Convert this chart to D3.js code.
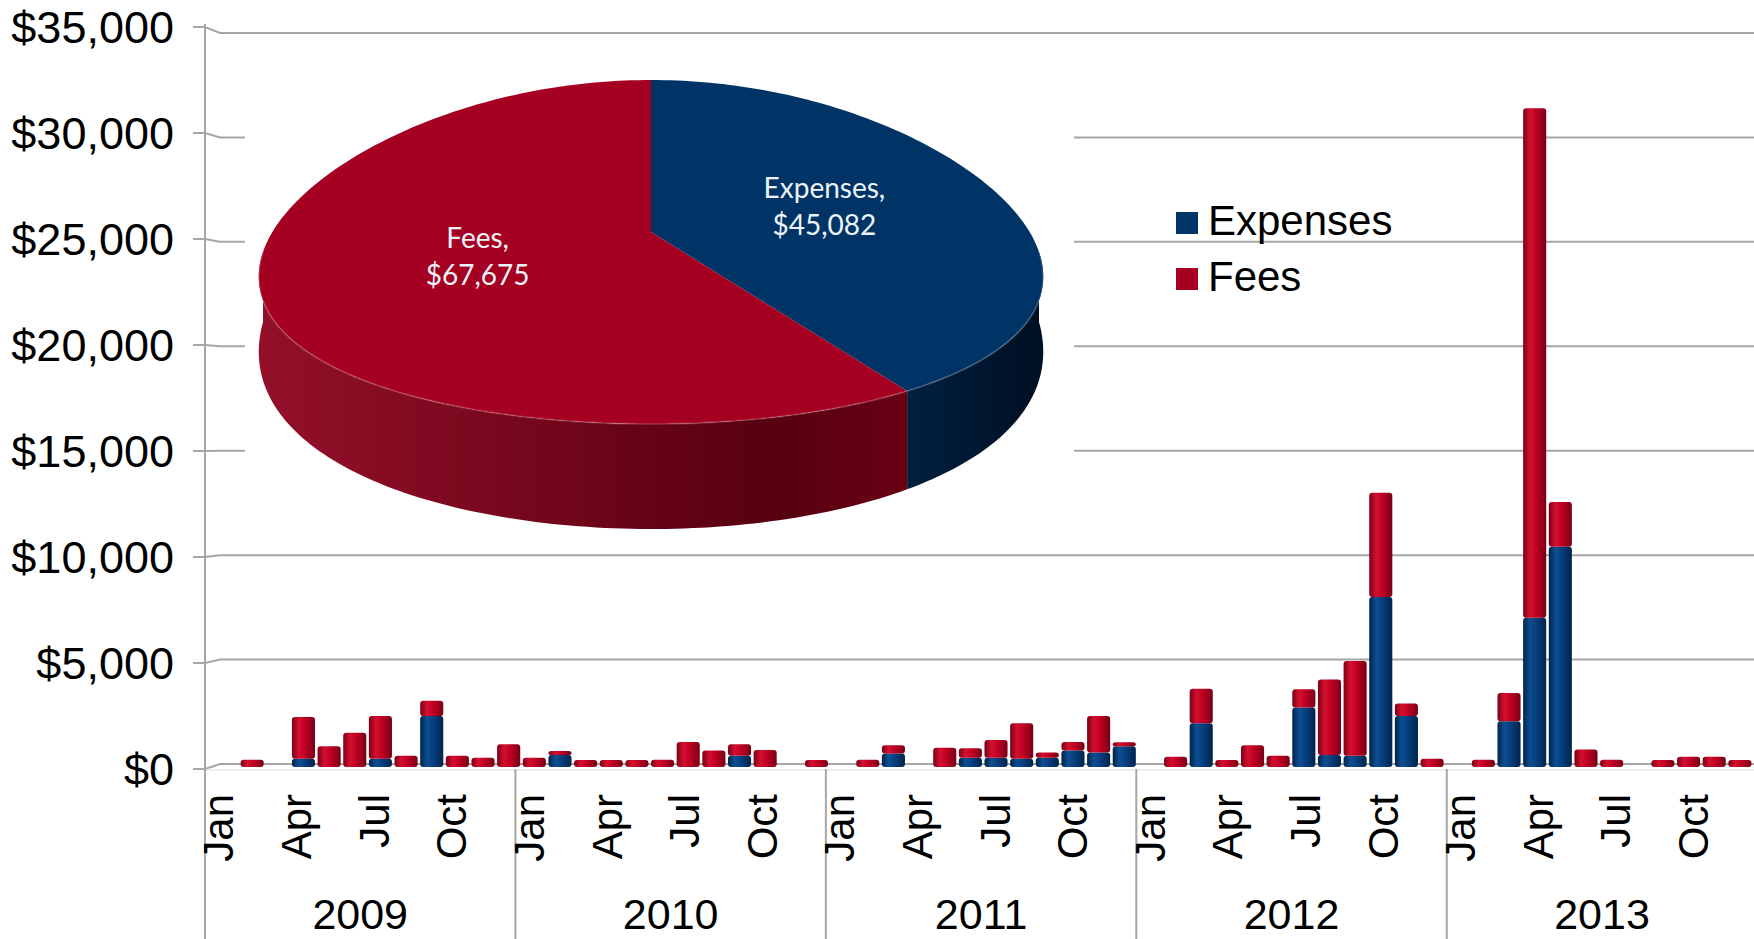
<!DOCTYPE html>
<html>
<head>
<meta charset="utf-8">
<script src="https://cdn.jsdelivr.net/npm/d3@7/dist/d3.min.js"></script>
<style>
  body { margin: 0; background: #fff; }
  svg { display: block; background: #fff; }
</style>
</head>
<body>
<svg width="1754" height="939"></svg>
<script>
// ---- data ----
const monthNames = ['Jan','Feb','Mar','Apr','May','Jun','Jul','Aug','Sep','Oct','Nov','Dec'];
const years = ['2009', '2010', '2011', '2012', '2013'];
const seriesNames = ['Expenses', 'Fees'];

const expenses = [
  0, 0, 0, 250, 0, 0, 250, 0, 2300, 0, 0, 0,            // 2009
  0, 430, 0, 0, 0, 0, 0, 0, 400, 0, 0, 0,               // 2010
  0, 0, 500, 0, 0, 300, 300, 250, 300, 650, 550, 850,   // 2011
  0, 0, 1950, 0, 0, 0, 2700, 430, 400, 8000, 2300, 0,   // 2012
  0, 0, 2050, 7000, 10400, 0, 0, 0, 0, 0, 0, 0          // 2013
];
const fees = [
  0, 200, 0, 2000, 850, 1500, 2050, 400, 730, 400, 300, 950,
  300, 150, 100, 80, 80, 200, 1050, 650, 550, 670, 0, 150,
  0, 200, 400, 0, 780, 450, 850, 1700, 250, 400, 1750, 150,
  0, 350, 1650, 100, 900, 400, 880, 3620, 4530, 4990, 600, 250,
  0, 200, 1350, 24400, 2150, 700, 200, 0, 150, 350, 350, 120
];
const yTicks = [0, 5000, 10000, 15000, 20000, 25000, 30000, 35000];

const pieLabels = ['Expenses', 'Fees'];
const pieValues = [45082, 67675];

// ---- setup ----
const svg = d3.select('svg');
const W = 1754;
const font = '"Liberation Sans", Arial, sans-serif';
const colors = { Expenses: '#003366', Fees: '#a50021' };

const axisX = 205, backX = 220;
const yFront = d3.scaleLinear().domain([0, 35000]).range([769, 27]);
const yBack = d3.scaleLinear().domain([0, 35000]).range([764, 33]);

const nMonths = expenses.length;
const xLabel = d3.scaleBand().domain(d3.range(nMonths)).range([axisX, axisX + nMonths * 25.87]);
const xBar = d3.scaleBand().domain(d3.range(nMonths))
  .range([213.7, 213.7 + nMonths * 25.65])
  .paddingInner(0.1).paddingOuter(0.05);

const defs = svg.append('defs');
const hGrad = (id, stops) => {
  const g = defs.append('linearGradient').attr('id', id)
    .attr('x1', 0).attr('x2', 1).attr('y1', 0).attr('y2', 0);
  stops.forEach(([o, c]) => g.append('stop').attr('offset', o).attr('stop-color', c));
};
hGrad('barFees', [[0, '#7c0016'], [0.3, '#d3102f'], [0.55, '#c20024'], [1, '#780015']]);
hGrad('barExpenses', [[0, '#00234a'], [0.3, '#0d4f90'], [0.55, '#064080'], [1, '#00234a']]);
hGrad('sideFees', [[0, '#94102a'], [0.45, '#72061a'], [0.8, '#560010'], [1, '#6a0015']]);
hGrad('sideExpenses', [[0, '#00203f'], [1, '#000f22']]);

// ---- gridlines with the little 3D kink ----
const grid = svg.append('g');
grid.selectAll('path').data(yTicks).enter().append('path')
  .attr('d', v => `M193,${yFront(v)}L${axisX},${yFront(v)}L${backX},${yBack(v)}L${W},${yBack(v)}`)
  .attr('fill', 'none')
  .attr('stroke', '#a6a6a6')
  .attr('stroke-width', 2);

// front edge of the floor
svg.append('line')
  .attr('x1', axisX).attr('x2', W)
  .attr('y1', yFront(0) + 1).attr('y2', yFront(0) + 1)
  .attr('stroke', '#dcdcdc').attr('stroke-width', 1);

// axis + year separators
svg.append('line')
  .attr('x1', axisX).attr('x2', axisX).attr('y1', 24).attr('y2', 939)
  .attr('stroke', '#a6a6a6').attr('stroke-width', 2);
svg.selectAll('.sep').data(d3.range(1, years.length)).enter().append('line')
  .attr('class', 'sep')
  .attr('x1', k => xLabel(k * 12)).attr('x2', k => xLabel(k * 12))
  .attr('y1', yFront(0)).attr('y2', 939)
  .attr('stroke', '#a6a6a6').attr('stroke-width', 2);

// y tick labels
svg.selectAll('.ytick').data(yTicks).enter().append('text')
  .attr('class', 'ytick')
  .attr('x', 174)
  .attr('y', v => yFront(v))
  .attr('dy', '0.36em')
  .attr('text-anchor', 'end')
  .style('font-family', font)
  .style('font-size', '45px')
  .text(d3.format('$,'));

// month labels (every quarter), rotated
const quarterIdx = d3.range(nMonths).filter(i => i % 3 === 0);
svg.selectAll('.month').data(quarterIdx).enter().append('text')
  .attr('class', 'month')
  .attr('transform', i => `translate(${xLabel(i) + xLabel.bandwidth() / 2},794) rotate(-90)`)
  .attr('dy', '0.37em')
  .attr('text-anchor', 'end')
  .style('font-family', font)
  .style('font-size', '42px')
  .text(i => monthNames[i % 12]);

// year labels
svg.selectAll('.year').data(years).enter().append('text')
  .attr('class', 'year')
  .attr('x', (d, k) => (xLabel(k * 12) + xLabel(k * 12 + 11) + xLabel.bandwidth()) / 2)
  .attr('y', 929)
  .attr('text-anchor', 'middle')
  .style('font-family', font)
  .style('font-size', '43px')
  .text(d => d);

// ---- stacked bars ----
const table = expenses.map((e, i) => ({ i, Expenses: e, Fees: fees[i] }));
const stacked = d3.stack().keys(seriesNames)(table);

const layers = svg.append('g').selectAll('g').data(stacked).enter().append('g')
  .attr('fill', s => `url(#bar${s.key})`);

layers.selectAll('rect')
  .data(s => s.filter(d => d[1] - d[0] > 0))
  .enter().append('rect')
  .attr('x', d => xBar(d.data.i))
  .attr('width', xBar.bandwidth())
  .attr('y', d => Math.min(yBack(d[1]), yBack(d[0]) - 4))
  .attr('height', d => Math.max(yBack(d[0]) - yBack(d[1]), 4) + (d[0] === 0 ? 3 : 0))
  .attr('rx', 3);

// ---- inset 3D pie ----
svg.append('rect')
  .attr('x', 245).attr('y', 45).attr('width', 829).attr('height', 500)
  .attr('fill', '#fff');

const pcx = 651, prx = 388;
const topCy = 252, topRy = 172;
const botCy = 322, botRy = 207;
const persp = 0.15;            // front of the disc drawn a bit wider than the back
const hub = [651, 232];
const rim = (a, cy, ry) => [
  pcx + prx * Math.sin(a) * (1 - persp * Math.cos(a)),
  cy - ry * Math.cos(a)
];
const rimPts = (a0, a1, cy, ry) => {
  const n = Math.max(2, Math.ceil((a1 - a0) / 0.02));
  return d3.range(n + 1).map(j => rim(a0 + (a1 - a0) * j / n, cy, ry));
};
const line = d3.line();

const arcs = d3.pie().sort(null).value(d => d)(pieValues)
  .map((a, k) => Object.assign(a, { name: pieLabels[k] }));

const pieG = svg.append('g');

// visible front walls
arcs.forEach(a => {
  const s = Math.max(a.startAngle, Math.PI / 2);
  const e = Math.min(a.endAngle, 3 * Math.PI / 2);
  if (e <= s) return;
  const pts = rimPts(s, e, topCy, topRy).concat(rimPts(s, e, botCy, botRy).reverse());
  pieG.append('path')
    .attr('d', line(pts) + 'Z')
    .attr('fill', `url(#side${a.name})`);
});

// top faces
pieG.selectAll('.slice').data(arcs).enter().append('path')
  .attr('class', 'slice')
  .attr('d', a => line([hub].concat(rimPts(a.startAngle, a.endAngle, topCy, topRy))) + 'Z')
  .attr('fill', a => colors[a.name]);

// faint highlight on the front rim
pieG.append('path')
  .attr('d', line(rimPts(Math.PI / 2, 3 * Math.PI / 2, topCy, topRy)))
  .attr('fill', 'none')
  .attr('stroke', 'rgba(255,255,255,0.15)')
  .attr('stroke-width', 2);

// slice labels
const fmt = d3.format('$,');
const lbl = pieG.selectAll('.plabel').data(arcs).enter().append('text')
  .attr('class', 'plabel')
  .attr('text-anchor', 'middle')
  .style('font-family', 'Lato, "Open Sans", sans-serif')
  .style('font-size', '28px')
  .attr('fill', '#eef3fa')
  .attr('transform', a => {
    const m = (a.startAngle + a.endAngle) / 2;
    return `translate(${hub[0] + 0.47 * prx * Math.sin(m)},${hub[1] - 0.47 * topRy * Math.cos(m)})`;
  });
lbl.append('tspan').attr('x', 0).attr('y', -9).text(a => a.name + ',');
lbl.append('tspan').attr('x', 0).attr('y', 28).text(a => fmt(a.value));

// ---- legend ----
const legend = svg.append('g').attr('transform', 'translate(1176,212)');
const items = legend.selectAll('g').data(seriesNames).enter().append('g')
  .attr('transform', (d, i) => `translate(0,${i * 56})`);
items.append('rect')
  .attr('width', 22).attr('height', 22)
  .attr('fill', d => colors[d]);
items.append('text')
  .attr('x', 32).attr('y', 23)
  .style('font-family', font)
  .style('font-size', '42px')
  .text(d => d);
</script>
</body>
</html>
